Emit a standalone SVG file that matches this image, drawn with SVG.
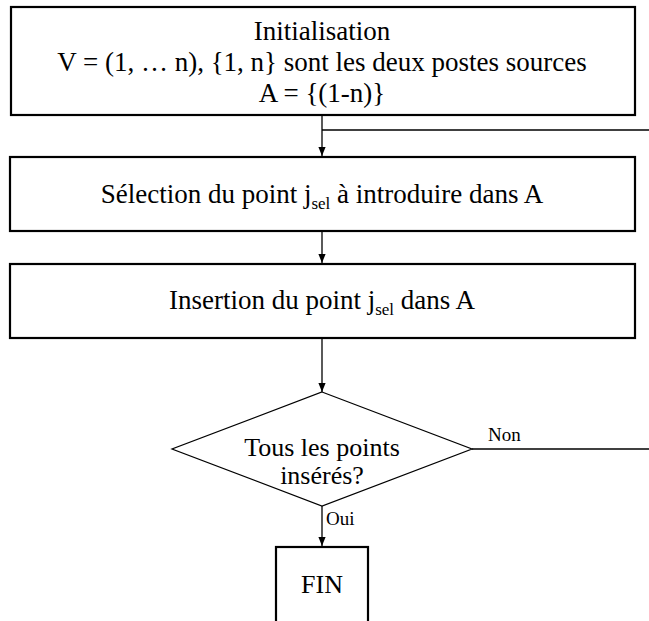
<svg xmlns="http://www.w3.org/2000/svg" width="649" height="621" viewBox="0 0 649 621">
<style>
.box{fill:#fff;stroke:#000;stroke-width:2.2}
.dia{fill:#fff;stroke:#000;stroke-width:1.2}
.t{font-family:"Liberation Serif","Times New Roman",serif;font-size:27px;fill:#000;text-anchor:middle}
.d{font-family:"Liberation Serif","Times New Roman",serif;font-size:26px;fill:#000;text-anchor:middle}
.s{font-family:"Liberation Serif","Times New Roman",serif;font-size:19px;fill:#000}
.c{fill:none;stroke:#000;stroke-width:1.3}
</style>
<defs>
<marker id="ah" viewBox="0 0 10 10" refX="10" refY="5" markerWidth="9" markerHeight="9" markerUnits="userSpaceOnUse" orient="auto">
<path d="M0,1 L10,5 L0,9 Z" fill="#000"/>
</marker>
</defs>
<rect width="649" height="621" fill="#fff"/>
<g id="connectors">
<line class="c" x1="322" y1="115" x2="322" y2="156" marker-end="url(#ah)"/>
<line class="c" x1="322" y1="130" x2="649" y2="130"/>
<line class="c" x1="322" y1="231" x2="322" y2="263" marker-end="url(#ah)"/>
<line class="c" x1="322" y1="338" x2="322" y2="392" marker-end="url(#ah)"/>
<line class="c" x1="472" y1="449" x2="649" y2="449"/>
<line class="c" x1="322" y1="506" x2="322" y2="546" marker-end="url(#ah)"/>
<text class="s" x="488" y="441">Non</text>
<text class="s" x="326" y="525">Oui</text>
</g>
<g id="init">
<rect class="box" x="11" y="7" width="624" height="108"/>
<text class="t" x="322" y="40">Initialisation</text>
<text class="t" x="322" y="71">V = (1, … n), {1, n} sont les deux postes sources</text>
<text class="t" x="322" y="102">A = {(1-n)}</text>
</g>
<g id="selection">
<rect class="box" x="10" y="157" width="625" height="74"/>
<text class="t" x="322" y="203">Sélection du point j<tspan font-size="17" dy="6">sel</tspan><tspan dy="-6"> à introduire dans A</tspan></text>
</g>
<g id="insertion">
<rect class="box" x="10" y="264" width="625" height="74"/>
<text class="t" x="322" y="309">Insertion du point j<tspan font-size="17" dy="6">sel</tspan><tspan dy="-6"> dans A</tspan></text>
</g>
<g id="decision">
<polygon class="dia" points="322,392 472,449 322,506 172,449"/>
<text class="d" x="322" y="456">Tous les points</text>
<text class="d" x="322" y="484">insérés?</text>
</g>
<g id="fin">
<rect class="box" x="276" y="547" width="92" height="80"/>
<text class="d" x="322" y="593">FIN</text>
</g>
</svg>
